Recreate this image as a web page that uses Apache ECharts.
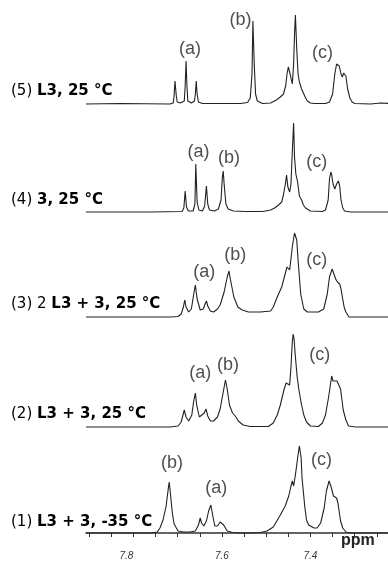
<!DOCTYPE html>
<html>
<head>
<meta charset="utf-8">
<script src="https://cdn.jsdelivr.net/npm/echarts@6/dist/echarts.min.js"></script>
<style>
html,body{margin:0;padding:0;background:#fff;}
#chart{width:388px;height:561px;}
</style>
</head>
<body>
<div id="chart"></div>
<script>
// ---- data: [ppm, intensity] ----
const spectrum5 = [[7.907,0],[7.830,0.5],[7.717,0],[7.710,1],[7.708,8],[7.706,23],[7.703,8],[7.701,2],[7.694,1],[7.685,3],[7.683,18],[7.681,43],[7.679,18],[7.677,3],[7.669,1],[7.662,3],[7.660,10],[7.658,23],[7.656,10],[7.653,2],[7.644,0.5],[7.558,0.5],[7.542,1.5],[7.536,6],[7.532,30],[7.530,83],[7.527,40],[7.524,10],[7.520,3],[7.508,0.5],[7.490,1],[7.477,4],[7.468,7],[7.461,10],[7.456,18],[7.453,30],[7.450,37],[7.446,30],[7.441,20],[7.438,40],[7.436,70],[7.434,89],[7.431,55],[7.428,30],[7.425,22],[7.420,15],[7.416,11],[7.411,6],[7.407,3],[7.400,1],[7.391,0.5],[7.366,0.5],[7.357,2],[7.350,10],[7.345,30],[7.341,40],[7.339,42],[7.335,38],[7.331,30],[7.328,27],[7.325,31],[7.323,33],[7.320,28],[7.316,15],[7.311,6],[7.306,2],[7.300,0.5],[7.264,0],[7.241,1],[7.200,0]];
const spectrum4 = [[7.907,0],[7.762,0],[7.690,0.5],[7.686,4],[7.683,21],[7.680,5],[7.676,1],[7.665,1],[7.661,8],[7.659,48],[7.656,10],[7.652,2],[7.644,1],[7.639,6],[7.635,26],[7.632,8],[7.628,2],[7.617,1],[7.608,3],[7.602,12],[7.599,35],[7.597,41],[7.595,28],[7.591,8],[7.586,3],[7.574,1],[7.547,0.5],[7.508,0.5],[7.490,2],[7.481,4],[7.472,7],[7.465,10],[7.461,17],[7.456,30],[7.454,37],[7.451,25],[7.447,20],[7.444,28],[7.442,50],[7.439,80],[7.438,89],[7.436,55],[7.433,38],[7.429,30],[7.425,16],[7.420,12],[7.416,7],[7.411,4],[7.407,2],[7.400,1],[7.373,0.5],[7.366,2],[7.360,12],[7.357,33],[7.354,40],[7.352,37],[7.349,28],[7.345,23],[7.341,28],[7.337,31],[7.334,26],[7.331,12],[7.327,4],[7.323,1],[7.309,0],[7.200,0]];
const spectrum3 = [[7.907,0],[7.717,0],[7.699,0.5],[7.692,3],[7.687,10],[7.684,17],[7.681,10],[7.675,5],[7.669,8],[7.664,22],[7.660,32],[7.656,18],[7.649,7],[7.642,8],[7.638,13],[7.635,16],[7.632,11],[7.626,6],[7.619,5],[7.610,8],[7.604,12],[7.595,25],[7.588,40],[7.584,46],[7.581,38],[7.573,20],[7.564,10],[7.554,7],[7.540,5],[7.513,5],[7.490,6],[7.484,10],[7.475,20],[7.465,30],[7.459,40],[7.453,50],[7.447,47],[7.441,70],[7.436,84],[7.431,77],[7.428,57],[7.422,23],[7.415,8],[7.407,5],[7.395,5],[7.382,5],[7.370,8],[7.362,23],[7.357,40],[7.351,48],[7.347,43],[7.343,38],[7.339,35],[7.334,33],[7.331,28],[7.324,10],[7.320,5],[7.313,0],[7.298,0],[7.200,0]];
const spectrum2 = [[7.907,0],[7.717,0],[7.699,1],[7.692,5],[7.685,17],[7.681,10],[7.675,6],[7.668,12],[7.664,25],[7.660,34],[7.657,22],[7.651,10],[7.647,9],[7.640,14],[7.636,18],[7.632,11],[7.626,6],[7.619,6],[7.610,10],[7.604,18],[7.597,35],[7.592,47],[7.588,38],[7.583,22],[7.576,14],[7.570,11],[7.563,6],[7.552,2],[7.536,0.5],[7.495,0.5],[7.484,4],[7.475,12],[7.468,22],[7.460,37],[7.455,44],[7.452,43],[7.447,42],[7.444,60],[7.441,85],[7.439,93],[7.437,88],[7.434,70],[7.430,50],[7.426,37],[7.421,24],[7.415,12],[7.409,5],[7.400,1],[7.382,0.5],[7.373,4],[7.366,12],[7.359,30],[7.354,45],[7.352,51],[7.349,46],[7.345,44],[7.340,46],[7.336,47],[7.332,38],[7.326,17],[7.320,7],[7.314,1],[7.298,0],[7.200,0]];
const spectrum1 = [[7.907,0],[7.762,0],[7.746,1],[7.740,5],[7.733,13],[7.726,27],[7.721,45],[7.719,51],[7.716,38],[7.712,20],[7.708,9],[7.699,2],[7.687,1],[7.672,1],[7.660,2],[7.653,8],[7.649,15],[7.646,10],[7.641,7],[7.635,12],[7.630,22],[7.625,28],[7.621,18],[7.616,7],[7.610,7],[7.604,11],[7.600,13],[7.596,8],[7.588,2],[7.576,0.5],[7.558,0],[7.536,0],[7.513,0.5],[7.498,2],[7.484,6],[7.468,18],[7.457,27],[7.449,37],[7.444,47],[7.441,52],[7.438,47],[7.434,58],[7.429,75],[7.425,87],[7.421,75],[7.419,55],[7.413,27],[7.409,13],[7.404,8],[7.392,5],[7.385,5],[7.377,10],[7.369,25],[7.364,42],[7.358,52],[7.354,47],[7.348,37],[7.344,36],[7.341,35],[7.338,30],[7.332,12],[7.327,5],[7.320,1],[7.309,0],[7.200,0]];

// peak annotations: [label, ppm, height]
const peaks5 = [['(a)',7.672,55],['(b)',7.558,83.5],['(c)',7.373,51]];
const peaks4 = [['(a)',7.653,60],['(b)',7.584,54],['(c)',7.386,50]];
const peaks3 = [['(a)',7.640,45],['(b)',7.570,62],['(c)',7.386,57]];
const peaks2 = [['(a)',7.649,54],['(b)',7.586,62],['(c)',7.379,72]];
const peaks1 = [['(b)',7.713,70],['(a)',7.613,45],['(c)',7.375,73]];

// trace captions: [plain part, bold part]
const traceLabels = [
  ['(5) ', 'L3, 25 °C'],
  ['(4) ', '3, 25 °C'],
  ['(3) 2 ', 'L3 + 3, 25 °C'],
  ['(2) ', 'L3 + 3, 25 °C'],
  ['(1) ', 'L3 + 3, -35 °C']
];

const ppmMin = 7.2, ppmMax = 7.907;
const ppmTicks = [7.9,7.85,7.8,7.75,7.7,7.65,7.6,7.55,7.5,7.45,7.4,7.35,7.3,7.25,7.2];
const ppmLabels = [7.8,7.6,7.4,7.2];
const axisName = 'ppm';

// ---- layout ----
const spectra = [spectrum5, spectrum4, spectrum3, spectrum2, spectrum1];
const peaks = [peaks5, peaks4, peaks3, peaks2, peaks1];
const baselines = [104, 212, 317, 427, 533];
const captionY = [93, 202, 306, 416, 524];
const H = 100;

const grid = [], xAxis = [], yAxis = [], series = [], graphic = [];
spectra.forEach((d, i) => {
  grid.push({left: 86, width: 313, top: baselines[i] - H, height: H,
    containLabel: false, outerBoundsMode: 'none'});
  const last = i === spectra.length - 1;
  xAxis.push({
    gridIndex: i, type: 'value', inverse: true, min: ppmMin, max: ppmMax,
    show: last, offset: last ? 10 : 0,
    splitLine: {show: false},
    axisLine: {show: true, lineStyle: {color: '#333', width: 1.5}},
    axisTick: {show: true, inside: false, length: 4, customValues: ppmTicks, lineStyle: {color: '#333', width: 1}},
    axisLabel: {show: true, customValues: ppmLabels, margin: 8, fontSize: 10, fontStyle: 'italic',
      fontFamily: 'Liberation Sans', color: '#333', alignMinLabel: 'right',
      formatter: v => v.toFixed(1)}
  });
  yAxis.push({gridIndex: i, type: 'value', min: 0, max: H, show: false});
  series.push({
    type: 'line', xAxisIndex: i, yAxisIndex: i, data: d,
    symbol: 'none', clip: false, animation: false,
    lineStyle: {color: '#222', width: 1.1}
  });
  series.push({
    type: 'scatter', xAxisIndex: i, yAxisIndex: i, symbolSize: 0, animation: false,
    data: peaks[i].map(p => ({name: p[0], value: [p[1], p[2]]})),
    label: {show: true, position: 'inside', formatter: '{b}', fontSize: 18,
      fontFamily: 'Liberation Sans', color: '#222'}
  });
  graphic.push({
    type: 'text', left: 11, top: captionY[i] - 9,
    style: {
      text: '{r|' + traceLabels[i][0] + '}{b|' + traceLabels[i][1] + '}',
      rich: {
        r: {fontSize: 15, fontFamily: 'DejaVu Sans', color: '#222'},
        b: {fontSize: 15, fontFamily: 'DejaVu Sans', fontWeight: 'bold', color: '#222'}
      }
    }
  });
});
// axis unit, sitting on the ppm axis line
graphic.push({
  type: 'text', left: 341, top: 533,
  style: {text: axisName, fontSize: 16, fontWeight: 'bold', fontFamily: 'Liberation Sans', fill: '#222'}
});

const chart = echarts.init(document.getElementById('chart'), null, {renderer: 'canvas'});
chart.setOption({
  backgroundColor: '#fff',
  animation: false,
  grid, xAxis, yAxis, series, graphic
});
</script>
</body>
</html>
